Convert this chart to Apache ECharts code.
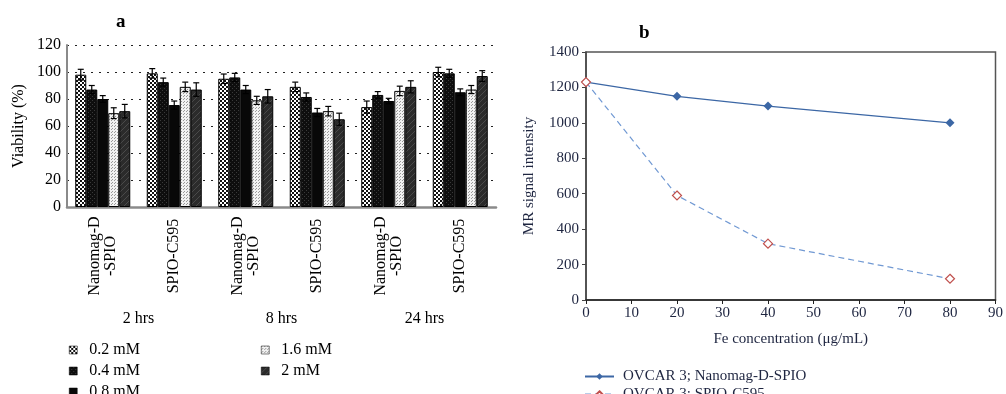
<!DOCTYPE html>
<html>
<head>
<meta charset="utf-8">
<script src="https://cdn.jsdelivr.net/npm/echarts@6/dist/echarts.min.js"></script>
<style>
  html, body { margin: 0; padding: 0; background: #fff; }
  #chart { width: 1006px; height: 394px; }
</style>
</head>
<body>
<div id="chart"></div>
<script>
// panel a: viability per particle / time, five concentrations
const groups = ['Nanomag-D\n-SPIO', 'SPIO-C595', 'Nanomag-D\n-SPIO', 'SPIO-C595', 'Nanomag-D\n-SPIO', 'SPIO-C595'];
const times = ['2 hrs', '8 hrs', '24 hrs'];
const concNames = ['0.2 mM', '0.4 mM', '0.8 mM', '1.6 mM', '2 mM'];
const v02 = [98, 99, 95, 89, 74, 100];
const v04 = [87, 92.5, 96, 81.5, 83, 99];
const v08 = [80, 75.5, 87, 70, 78.5, 85];
const v16 = [69.5, 89, 79, 71, 86, 87];
const v20 = [71, 87, 82, 65, 89, 97];
const e02 = [4, 3.5, 3.5, 3.5, 4.5, 3.5];
const e04 = [3, 3, 3, 3, 2.5, 3];
const e08 = [2.5, 3, 3, 3, 2, 2.5];
const e16 = [4, 3.5, 3, 3.5, 3.5, 3];
const e20 = [5, 5, 5, 4.5, 4.5, 4];

// panel b: MR signal vs Fe concentration
const feConc = [0, 20, 40, 80];
const nanomagSignal = [1230, 1150, 1095, 1000];
const c595Signal = [1230, 590, 318, 120];

const values = [v02, v04, v08, v16, v20];
const errors = [e02, e04, e08, e16, e20];

const FONT = '"Liberation Serif", "DejaVu Serif", serif';
const BW = 11;

function pattern(size, draw) {
  const c = document.createElement('canvas');
  c.width = size; c.height = size;
  draw(c.getContext('2d'), size);
  return { image: c, repeat: 'repeat' };
}

const fills = [
  pattern(4, (g) => { g.fillStyle = '#fff'; g.fillRect(0, 0, 4, 4); g.fillStyle = '#111'; g.fillRect(0, 0, 2, 2); g.fillRect(2, 2, 2, 2); }),
  pattern(4, (g) => { g.fillStyle = '#0e0e0e'; g.fillRect(0, 0, 4, 4); g.fillStyle = '#3a3a3a'; g.fillRect(0, 0, 1, 1); g.fillRect(2, 2, 1, 1); }),
  '#080808',
  pattern(3, (g) => { g.fillStyle = '#f2f2f2'; g.fillRect(0, 0, 3, 3); g.fillStyle = '#9a9a9a'; g.fillRect(0, 0, 1, 1); g.fillRect(1, 2, 1, 1); }),
  pattern(6, (g) => { g.fillStyle = '#2b2b2b'; g.fillRect(0, 0, 6, 6); g.strokeStyle = '#4a4a4a'; g.lineWidth = 1; g.beginPath(); g.moveTo(0, 6); g.lineTo(6, 0); g.stroke(); })
];

const barSeries = concNames.map((name, i) => ({
  name: name,
  type: 'bar',
  xAxisIndex: 0,
  yAxisIndex: 0,
  barWidth: BW,
  barGap: '0%',
  itemStyle: { color: fills[i], borderColor: '#000', borderWidth: 1 },
  data: values[i]
}));

const errSeries = concNames.map((name, i) => ({
  type: 'custom',
  xAxisIndex: 0,
  yAxisIndex: 0,
  z: 5,
  silent: true,
  data: values[i].map((v, k) => [k, v, errors[i][k]]),
  renderItem: function (params, api) {
    const x = api.coord([api.value(0), 0])[0] + (i - 2) * BW;
    const top = api.coord([api.value(0), api.value(1) + api.value(2)])[1];
    const bot = api.coord([api.value(0), api.value(1) - api.value(2)])[1];
    const st = { stroke: '#000', lineWidth: 1.2 };
    return {
      type: 'group',
      children: [
        { type: 'line', shape: { x1: x, y1: top, x2: x, y2: bot }, style: st },
        { type: 'line', shape: { x1: x - 3, y1: top, x2: x + 3, y2: top }, style: st },
        { type: 'line', shape: { x1: x - 3, y1: bot, x2: x + 3, y2: bot }, style: st }
      ]
    };
  }
}));

const legendA = {
  orient: 'vertical', top: 337, height: 100,
  icon: 'rect', itemWidth: 8, itemHeight: 8, itemGap: 5,
  itemStyle: { borderWidth: 0.5 },
  textStyle: { fontFamily: FONT, fontSize: 16, color: '#000', padding: [0, 0, 0, 7] }
};

const chart = echarts.init(document.getElementById('chart'));

chart.setOption({
  animation: false,
  textStyle: { fontFamily: FONT },
  title: [
    { text: 'a', left: 111, top: 8, textStyle: { fontFamily: FONT, fontSize: 19, fontWeight: 'bold', color: '#000' } },
    { text: 'b', left: 634, top: 19, textStyle: { fontFamily: FONT, fontSize: 19, fontWeight: 'bold', color: '#000' } }
  ],
  legend: [
    Object.assign({ data: concNames.slice(0, 3), left: 64 }, legendA),
    Object.assign({ data: concNames.slice(3), left: 256 }, legendA),
    {
      data: ['OVCAR 3; Nanomag-D-SPIO', 'OVCAR 3; SPIO-C595'], orient: 'vertical', left: 579, top: 364, height: 60,
      itemWidth: 29, itemHeight: 8, itemGap: 3,
      textStyle: { fontFamily: FONT, fontSize: 15, color: '#1e2540', padding: [0, 0, 0, 4] }
    }
  ],
  grid: [
    { left: 67, top: 45, width: 429, height: 162 },
    { left: 586, top: 52, width: 412, height: 248, show: true, borderColor: '#555', borderWidth: 1.5 }
  ],
  xAxis: [
    {
      type: 'category', gridIndex: 0, data: groups,
      axisLine: { lineStyle: { color: '#8a8a8a', width: 2.5 } },
      axisTick: { show: false },
      axisLabel: {
        rotate: 90, align: 'center', verticalAlign: 'middle', margin: 49, interval: 0,
        fontFamily: FONT, fontSize: 16, color: '#000', lineHeight: 16
      }
    },
    {
      type: 'category', gridIndex: 0, data: times, position: 'bottom', offset: 98,
      axisLine: { show: false }, axisTick: { show: false },
      axisLabel: { fontFamily: FONT, fontSize: 16, color: '#000', margin: 6 }
    },
    {
      type: 'value', gridIndex: 1, min: 0, max: 90, interval: 10,
      name: 'Fe concentration (\u03bcg/mL)', nameLocation: 'middle', nameGap: 32,
      nameTextStyle: { fontFamily: FONT, fontSize: 15, color: '#1e2540' },
      axisLine: { lineStyle: { color: '#222', width: 1.5 } },
      axisTick: { show: true, length: 4, lineStyle: { color: '#222' } },
      axisLabel: { fontFamily: FONT, fontSize: 15, color: '#1e2540', margin: 6 },
      splitLine: { show: false }
    }
  ],
  yAxis: [
    {
      type: 'value', gridIndex: 0, min: 0, max: 120, interval: 20,
      name: 'Viability (%)', nameLocation: 'middle', nameGap: 40,
      nameTextStyle: { fontFamily: FONT, fontSize: 16, color: '#000' },
      axisLine: { show: true, lineStyle: { color: '#8a8a8a', width: 2 } },
      axisTick: { show: false },
      axisLabel: { fontFamily: FONT, fontSize: 16, color: '#000', margin: 6 },
      splitLine: { show: true, lineStyle: { color: '#222', type: [2, 6], width: 1 } }
    },
    {
      type: 'value', gridIndex: 1, min: 0, max: 1400, interval: 200,
      name: 'MR signal intensity', nameLocation: 'middle', nameGap: 49,
      nameTextStyle: { fontFamily: FONT, fontSize: 15, color: '#1e2540' },
      axisLine: { show: true, lineStyle: { color: '#444', width: 1.5 } },
      axisTick: { show: true, length: 4, lineStyle: { color: '#444' } },
      axisLabel: { fontFamily: FONT, fontSize: 15, color: '#1e2540', margin: 7, formatter: (v) => String(v) },
      splitLine: { show: false }
    }
  ],
  series: barSeries.concat(errSeries).concat([
    {
      name: 'OVCAR 3; Nanomag-D-SPIO', type: 'line', xAxisIndex: 2, yAxisIndex: 1,
      data: feConc.map((x, k) => [x, nanomagSignal[k]]),
      symbol: 'diamond', symbolSize: 9,
      lineStyle: { color: '#3c67a5', width: 1.2 },
      itemStyle: { color: '#3c67a5' }
    },
    {
      name: 'OVCAR 3; SPIO-C595', type: 'line', xAxisIndex: 2, yAxisIndex: 1,
      data: feConc.map((x, k) => [x, c595Signal[k]]),
      symbol: 'diamond', symbolSize: 9,
      lineStyle: { color: '#7199d3', width: 1.2, type: [6, 4] },
      itemStyle: { color: '#fff', borderColor: '#c0504d', borderWidth: 1.2 }
    }
  ])
});
</script>
</body>
</html>
